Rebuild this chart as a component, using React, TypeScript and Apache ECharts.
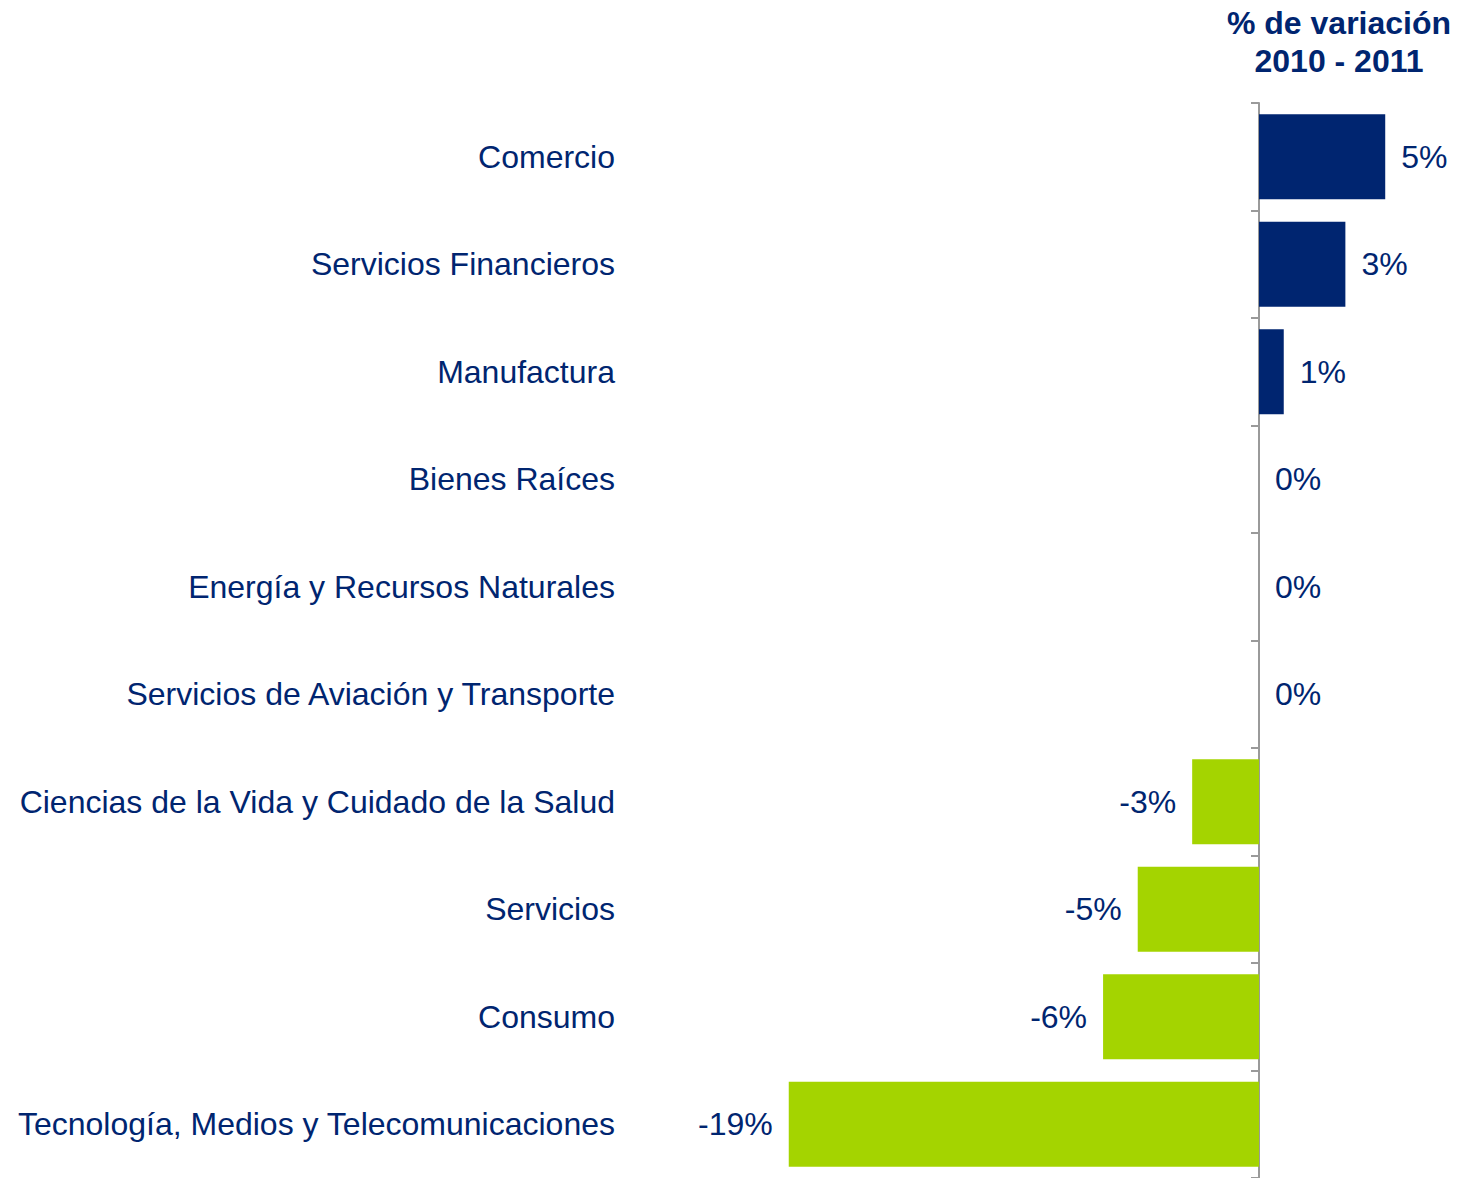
import React, { useEffect, useRef } from "react";
import * as echarts from "echarts";

const categories = [
  "Comercio",
  "Servicios Financieros",
  "Manufactura",
  "Bienes Raíces",
  "Energía y Recursos Naturales",
  "Servicios de Aviación y Transporte",
  "Ciencias de la Vida y Cuidado de la Salud",
  "Servicios",
  "Consumo",
  "Tecnología, Medios y Telecomunicaciones",
];
const variation = [5.1, 3.49, 1.0, 0, 0, 0, -2.7, -4.9, -6.3, -19.0];
const titleLines = ["% de variación", "2010 - 2011"];

const NAVY = "#002570";
const GREEN = "#a4d400";
const FONT = "'Liberation Sans', Arial, sans-serif";

export default function App() {
  const ref = useRef<HTMLDivElement>(null);
  useEffect(() => {
    if (!ref.current) return;
    const chart = echarts.init(ref.current, undefined, { renderer: "svg" });
    chart.setOption({
      animation: false,
      textStyle: { fontFamily: FONT },
      graphic: [
        {
          type: "text",
          x: 1339,
          y: 4,
          style: {
            text: titleLines.join("\n"),
            font: `bold 32px ${FONT}`,
            fill: NAVY,
            textAlign: "center",
            lineHeight: 38,
          },
        },
      ],
      grid: { left: 764, right: 0, top: 103, bottom: -2, containLabel: false },
      xAxis: { type: "value", min: -20, max: 8, show: false },
      yAxis: [
        {
          type: "category",
          inverse: true,
          position: "left",
          data: categories,
          axisLine: { show: true, onZero: true, lineStyle: { color: "#9a9a9a", width: 2 } },
          axisTick: { show: true, length: 8, lineStyle: { color: "#9a9a9a", width: 2 } },
          axisLabel: { show: false },
          splitLine: { show: false },
        },
        {
          type: "category",
          inverse: true,
          position: "left",
          data: categories,
          axisLine: { show: false, onZero: false },
          axisTick: { show: false },
          axisLabel: {
            show: true,
            margin: 149,
            fontSize: 32,
            color: NAVY,
            fontFamily: FONT,
          },
          splitLine: { show: false },
        },
      ],
      series: [
        {
          type: "bar",
          yAxisIndex: 0,
          barWidth: 85,
          data: variation.map((v) => ({
            value: v,
            itemStyle: { color: v < 0 ? GREEN : NAVY },
            label: { position: v < 0 ? "left" : "right" },
          })),
          label: {
            show: true,
            distance: 16,
            fontSize: 32,
            color: NAVY,
            fontFamily: FONT,
            formatter: (p: any) => `${Math.round(p.value)}%`,
          },
        },
      ],
    });
    return () => chart.dispose();
  }, []);
  return (
    <div
      ref={ref}
      style={{ position: "fixed", left: 0, top: 0, width: 1457, height: 1178, background: "#fff" }}
    />
  );
}
